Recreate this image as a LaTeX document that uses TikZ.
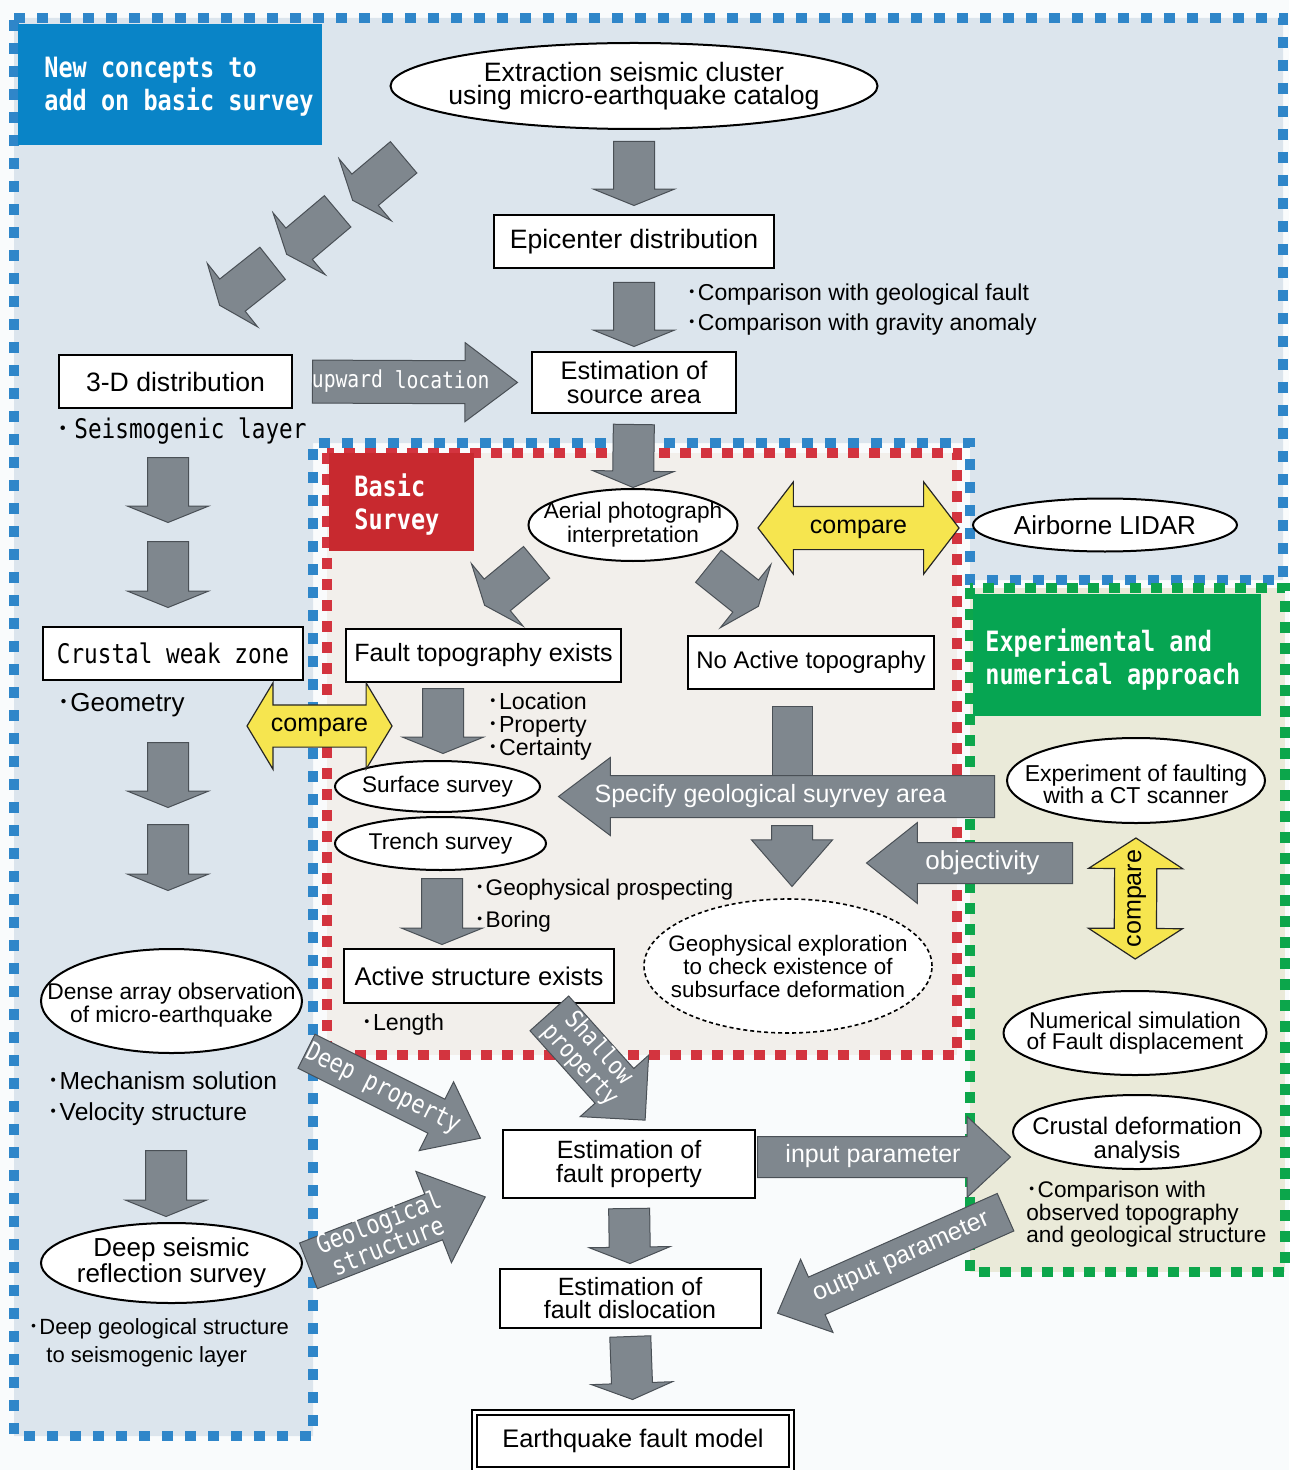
\documentclass[tikz,border=0pt]{standalone}
\usepackage{fontspec}
\setmainfont{Liberation Sans}
\newfontfamily\monofont[FakeStretch=0.84]{DejaVu Sans Mono}
\newfontfamily\cjkfont{Noto Sans CJK JP}
\usetikzlibrary{shapes.geometric,shapes.arrows,calc}

\definecolor{bgall}{HTML}{F9FBFC}
\definecolor{bluefill}{HTML}{DCE5ED}
\definecolor{bluedash}{HTML}{2F86C9}
\definecolor{redfill}{HTML}{F2EFEB}
\definecolor{reddash}{HTML}{D3343F}
\definecolor{greenfill}{HTML}{EAEAD9}
\definecolor{greendash}{HTML}{0CA64B}
\definecolor{bluetitle}{HTML}{0984C7}
\definecolor{redtitle}{HTML}{C8292F}
\definecolor{greentitle}{HTML}{06A552}
\definecolor{arrowgray}{HTML}{7F878E}
\definecolor{arrowline}{HTML}{4A5056}
\definecolor{cmpyellow}{HTML}{F6E54F}

\newcommand{\tdot}{{\cjkfont ･}}
\newcommand{\fsz}[2]{\fontsize{#1}{#2}\selectfont}
\newcommand{\zt}[1]{\makebox[0pt]{\begin{tabular}{@{}c@{}}#1\end{tabular}}}

\tikzset{%
  % Specifications for style of nodes:
           box/.style = {rectangle, draw=black, fill=white, line width=1pt,
                         inner sep=1pt, align=center},
          oval/.style = {ellipse, draw=black, fill=white, line width=1pt, inner sep=0pt},
      ovaltext/.style = {align=center, inner sep=0pt},
          note/.style = {anchor=west, align=left, inner sep=0pt},
         title/.style = {anchor=west, inner sep=0pt, text=white, align=left,
                         font=\monofont\bfseries\fsz{14}{16.5}},
      blueline/.style = {draw=bluedash, line width=5pt, dash pattern=on 5.5pt off 6pt},
       redline/.style = {draw=reddash, line width=5pt, dash pattern=on 5.5pt off 5pt},
     greenline/.style = {draw=greendash, line width=5pt, dash pattern=on 5.5pt off 5pt},
  % block arrows
           fat/.style = {single arrow, draw=arrowline, fill=arrowgray, line width=0.5pt,
                         text=white, inner xsep=0pt, text height=8pt, text depth=1.5pt,
                         inner ysep=5.25pt, minimum width=40pt, single arrow head extend=10pt,
                         single arrow tip angle=80, font=\fsz{12.5}{12}},
          flat/.style = {text height=0pt, text depth=0pt, inner ysep=10pt,
                         single arrow tip angle=136},
     monoarrow/.style = {font=\monofont\fsz{11.7}{11}},
           cmp/.style = {double arrow, draw=black!85, fill=cmpyellow, line width=0.6pt,
                         inner xsep=0pt, text height=8pt, text depth=1.5pt, inner ysep=5.5pt,
                         font=\fsz{12.5}{12}},
}

% block arrow from tail to tip
\newcommand{\fatarrow}[4][]{%
  \path let \p1=(#2), \p2=(#3), \n1={atan2(\y2-\y1,\x2-\x1)}, \n2={veclen(\x2-\x1,\y2-\y1)} in
    node[fat, anchor=tail, rotate=\n1, minimum height=\n2, #1] at (\p1) {\zt{#4}};}
% same, text kept upright when the arrow points to the left
\newcommand{\fatarrowl}[4][]{%
  \path let \p1=(#2), \p2=(#3), \n1={atan2(\y1-\y2,\x1-\x2)}, \n2={veclen(\x2-\x1,\y2-\y1)} in
    node[fat, shape border rotate=180, anchor=tail, rotate=\n1, minimum height=\n2, #1] at (\p1) {\zt{#4}};}
% yellow double arrow
\newcommand{\cmparrow}[4][]{%
  \path let \p1=(#2), \p2=(#3), \n1={atan2(\y2-\y1,\x2-\x1)}, \n2={veclen(\x2-\x1,\y2-\y1)} in
    node[cmp, rotate=\n1, minimum height=\n2, #1] at ($(\p1)!0.5!(\p2)$) {\zt{#4}};}

\begin{document}
\begin{tikzpicture}[x=0.5pt, y=-0.5pt]
  % page and the three areas
  \fill[bgall] (0,0) rectangle (1289,1470);
  \useasboundingbox (0,0) rectangle (1289,1470);
  \fill[bluefill] (14,18) -- (1283,18) -- (1283,580) -- (970,580) -- (970,443) -- (313,443) -- (313,1436) -- (14,1436) -- cycle;
  \draw[blueline] (14,18) -- (1283,18) -- (1283,580) -- (970,580) -- (970,443) -- (313,443) -- (313,1436) -- (14,1436) -- cycle;
  \fill[greenfill] (970,588) rectangle (1285,1272);
  \draw[greenline] (970,588) rectangle (1285,1272);
  \fill[redfill] (327,453) rectangle (957,1055);
  \draw[redline] (327,453) rectangle (957,1055);

  % area titles
  \fill[bluetitle] (18,24) rectangle (322,145);
  \fill[redtitle] (329,453) rectangle (474,551);
  \fill[greentitle] (973,594) rectangle (1261,716);
  \node (ttl-new)   [title] at (44,87) {New concepts to\\add on basic survey};
  \node (ttl-basic) [title] at (354,504.5) {Basic\\Survey};
  \node (ttl-exp)   [title] at (985,660) {Experimental and\\numerical approach};

  % Specification of nodes (position, etc.)
  \node (extract)   [oval, minimum width=243.5pt, minimum height=43pt, label={[ovaltext, font=\fsz{13.3}{11.5}]center:Extraction seismic cluster\\using micro-earthquake catalog}] at (634,86) {};
  \node (epic)      [box, minimum width=140pt, minimum height=26.5pt, font=\fsz{13.3}{12}] at (634,241.5) {Epicenter distribution};
  \node (source)    [box, minimum width=102pt, minimum height=30.5pt, font=\fsz{12.7}{12}] at (634,382.5) {Estimation of\\source area};
  \node (threeD)    [box, minimum width=116.5pt, minimum height=26.5pt, font=\fsz{13.3}{12}] at (175.5,381.5) {3-D distribution};
  \node (crust)     [box, minimum width=130pt, minimum height=26.5pt, font=\monofont\fsz{13.5}{12}] at (173,653.5) {Crustal weak zone};
  \node (aerial)    [oval, minimum width=104.5pt, minimum height=36pt, label={[ovaltext, font=\fsz{11.3}{12}]center:Aerial photograph\\interpretation}] at (633,525) {};
  \node (lidar)     [oval, minimum width=132pt, minimum height=26.5pt, label={[ovaltext, font=\fsz{13}{12}]center:Airborne LIDAR}] at (1105,525) {};
  \node (faulttopo) [box, minimum width=137.5pt, minimum height=26.5pt, font=\fsz{12.5}{12}] at (483.5,655.5) {Fault topography exists};
  \node (noactive)  [box, minimum width=123pt, minimum height=26.5pt, font=\fsz{12}{12}] at (811,662.5) {No Active topography};
  \node (surface)   [oval, minimum width=102.5pt, minimum height=25.5pt, label={[ovaltext, font=\fsz{11.3}{12}]center:Surface survey}] at (437.5,786.5) {};
  \node (trench)    [oval, minimum width=105.5pt, minimum height=26.5pt, label={[ovaltext, font=\fsz{11.4}{12}]center:Trench survey}] at (440.5,843.5) {};
  \node (active)    [box, minimum width=135pt, minimum height=27pt, font=\fsz{12.8}{12}] at (479,976) {Active structure exists};
  \node (geoexp)    [oval, line width=0.8pt, dash pattern=on 2pt off 1.5pt, minimum width=144pt, minimum height=67pt, label={[ovaltext, font=\fsz{11.2}{11.5}]center:Geophysical exploration\\to check existence of\\subsurface deformation}] at (788,966) {};
  \node (ctexp)     [oval, minimum width=129pt, minimum height=42.5pt, label={[ovaltext, font=\fsz{11.5}{11}, yshift=-1.75pt]center:Experiment of faulting\\with a CT scanner}] at (1136,780.5) {};
  \node (numsim)    [oval, minimum width=131.5pt, minimum height=42pt, label={[ovaltext, font=\fsz{11.4}{10.5}]center:Numerical simulation\\of Fault displacement}] at (1135,1033) {};
  \node (crustdef)  [oval, minimum width=124pt, minimum height=37pt, label={[ovaltext, font=\fsz{12}{12}, yshift=-4pt]center:Crustal deformation\\analysis}] at (1137,1132) {};
  \node (dense)     [oval, minimum width=130.5pt, minimum height=52pt, label={[ovaltext, font=\fsz{11.4}{11.5}, yshift=-2.25pt]center:Dense array observation\\of micro-earthquake}] at (171.5,1001) {};
  \node (deep)      [oval, minimum width=130.5pt, minimum height=40pt, label={[ovaltext, font=\fsz{13}{11}]center:Deep seismic\\reflection survey}] at (171.5,1263) {};
  \node (fprop)     [box, minimum width=126pt, minimum height=34pt, font=\fsz{12.5}{12}] at (629,1164) {Estimation of\\fault property};
  \node (fdisl)     [box, minimum width=130.5pt, minimum height=29.5pt, font=\fsz{12.5}{11.5}] at (630,1298.5) {Estimation of\\fault dislocation};
  \node (quake)     [box, double=white, double distance=1.5pt, minimum width=158.5pt, minimum height=28.5pt, font=\fsz{12.7}{12}] at (633,1441) {Earthquake fault model};

  % notes
  \node (cmpnote)   [note, font=\fsz{11.5}{15}] at (686,309.5) {\tdot Comparison with geological fault\\\tdot Comparison with gravity anomaly};
  \node (seismo)    [note, font=\monofont\fsz{13.5}{15}] at (56,431) {\tdot\,Seismogenic layer};
  \node (geom)      [note, font=\fsz{13}{15}] at (57,705) {\tdot Geometry};
  \node (locnote)   [note, font=\fsz{11.6}{11.5}] at (487,726) {\tdot Location\\\tdot Property\\\tdot Certainty};
  \node (geonote)   [note, font=\fsz{11.3}{16}] at (474,906) {\tdot Geophysical prospecting\\\tdot Boring};
  \node (lennote)   [note, font=\fsz{11.6}{12}] at (361,1024) {\tdot Length};
  \node (mechnote)  [note, font=\fsz{12.3}{15.5}] at (47,1098.5) {\tdot Mechanism solution\\\tdot Velocity structure};
  \node (deepnote)  [note, font=\fsz{11}{14}] at (28,1343) {\tdot Deep geological structure\\\hspace*{9pt}to seismogenic layer};
  \node (obsnote)   [note, font=\fsz{11.3}{11.25}] at (1026,1214.5) {\tdot Comparison with\\observed topography\\and geological structure};

  % free ends of the block arrows
  \coordinate (nw1a) at (404,157);   \coordinate (nw1b) at (353,200);
  \coordinate (nw2a) at (338,211);   \coordinate (nw2b) at (287,254);
  \coordinate (nw3a) at (273,263);   \coordinate (nw3b) at (220,305);
  \coordinate (l1a) at (168,457);    \coordinate (l1b) at (168,522);
  \coordinate (l2a) at (168,541);    \coordinate (l2b) at (168,607);
  \coordinate (l3a) at (168,742);    \coordinate (l3b) at (168,807);
  \coordinate (l4a) at (168,824);    \coordinate (l4b) at (168,890);
  \coordinate (l5a) at (166,1150);   \coordinate (l5b) at (166,1216);
  \coordinate (ft-a) at (537,562);   \coordinate (ft-b) at (485,605);
  \coordinate (na-a) at (708,566);   \coordinate (na-b) at (758,606);
  \coordinate (ss-a) at (443,688);   \coordinate (ss-b) at (443,753);
  \coordinate (ts-a) at (442,878);   \coordinate (ts-b) at (442,944);
  \coordinate (ge-a) at (792,825);   \coordinate (ge-b) at (792,886);
  \coordinate (spec-a) at (995,796.5); \coordinate (spec-b) at (559,796.5);
  \coordinate (obj-a) at (1073,863); \coordinate (obj-b) at (867,863);
  \coordinate (in-a) at (757,1157);  \coordinate (in-b) at (1010,1157);
  \coordinate (out-a) at (1006,1212); \coordinate (out-b) at (778,1313);
  \coordinate (dp-a) at (306,1051);  \coordinate (dp-b) at (480,1138);
  \coordinate (gs-a) at (308,1266);  \coordinate (gs-b) at (485,1197);
  \coordinate (sp-a) at (549,1013);  \coordinate (sp-b) at (645,1120);
  \coordinate (cl-a) at (247,726);   \coordinate (cl-b) at (392,726);

  % gray arrows
  \fatarrow[flat]{$(extract.south)!5.5pt!(epic.north)$}{$(epic.north)!4.5pt!(extract.south)$}{}
  \fatarrow[flat]{$(epic.south)!6.5pt!(source.north)$}{$(source.north)!2.5pt!(epic.south)$}{}
  \fatarrow[flat]{$(source.south)!5pt!(aerial.north)$}{$(aerial.north)!0.5pt!(source.south)$}{}
  \fatarrow[flat]{nw1a}{nw1b}{}
  \fatarrow[flat]{nw2a}{nw2b}{}
  \fatarrow[flat]{nw3a}{nw3b}{}
  \fatarrow[flat]{l1a}{l1b}{}
  \fatarrow[flat]{l2a}{l2b}{}
  \fatarrow[flat]{l3a}{l3b}{}
  \fatarrow[flat]{l4a}{l4b}{}
  \fatarrow[flat]{l5a}{l5b}{}
  \fatarrow[flat]{ft-a}{ft-b}{}
  \fatarrow[flat]{na-a}{na-b}{}
  \fatarrow[flat]{ss-a}{ss-b}{}
  \fatarrow[flat]{ts-a}{ts-b}{}
  \fatarrow[flat]{$(fprop.south)!4.5pt!(fdisl.north)$}{$(fdisl.north)!2.5pt!(fprop.south)$}{}
  \fatarrow[flat]{$(fdisl.south)!3.5pt!(quake.north)$}{$(quake.north)!6.25pt!(fdisl.south)$}{}

  \draw[draw=arrowline, fill=arrowgray, line width=0.5pt] ($(noactive.south)+(-39,16)$) rectangle ($(noactive.south)+(1,91)$);
  \fatarrowl[inner ysep=5.5pt, minimum width=38.5pt, single arrow head extend=9pt, single arrow tip angle=74]{spec-a}{spec-b}{Specify geological suyrvey area\hspace*{20pt}}
  \fatarrow[flat, single arrow tip angle=82]{ge-a}{ge-b}{}
  \fatarrowl[font=\fsz{13}{12}, single arrow tip angle=77]{obj-a}{obj-b}{objectivity}

  \fatarrow[monoarrow, inner ysep=5.75pt, minimum width=39pt, single arrow head extend=9pt, single arrow tip angle=74]{$(threeD.east)!9.5pt!(source.west)$}{$(source.west)!7pt!(threeD.east)$}{upward location}
  \fatarrow[single arrow tip angle=86]{in-a}{in-b}{input parameter}
  \fatarrowl[minimum width=39.5pt, single arrow head extend=9.75pt, single arrow tip angle=86]{out-a}{out-b}{output parameter}
  \fatarrow[monoarrow, font=\monofont\fsz{12.9}{11}, inner ysep=4.5pt, minimum width=38pt, single arrow head extend=9.75pt, single arrow tip angle=76]{dp-a}{dp-b}{Deep property}
  \fatarrow[font=\monofont\fsz{13}{12}, text height=15.2pt, text depth=8.8pt, inner ysep=0pt, minimum width=48.5pt, single arrow head extend=12.25pt, single arrow tip angle=83]{gs-a}{gs-b}{Geological\\structure}
  \fatarrow[font=\monofont\fsz{12.5}{12.5}, text height=16pt, text depth=9.5pt, inner ysep=0pt, minimum width=45.5pt, single arrow head extend=10pt, single arrow tip angle=90]{sp-a}{sp-b}{Shallow\\property}

  % compare arrows
  \cmparrow[minimum width=42.5pt, double arrow head extend=11pt, double arrow tip angle=118]{cl-a}{cl-b}{compare}
  \cmparrow[inner ysep=5.75pt, minimum width=45.5pt, double arrow head extend=12.25pt, double arrow tip angle=105, yshift=-1.5pt]{$(aerial.east)!9.75pt!(lidar.west)$}{$(lidar.west)!6.5pt!(aerial.east)$}{compare}
  \cmparrow[minimum width=46.5pt, double arrow head extend=13pt, double arrow tip angle=114]{$(numsim.north)!15.5pt!(ctexp.south)$}{$(ctexp.south)!7pt!(numsim.north)$}{compare}

\end{tikzpicture}
\end{document}
